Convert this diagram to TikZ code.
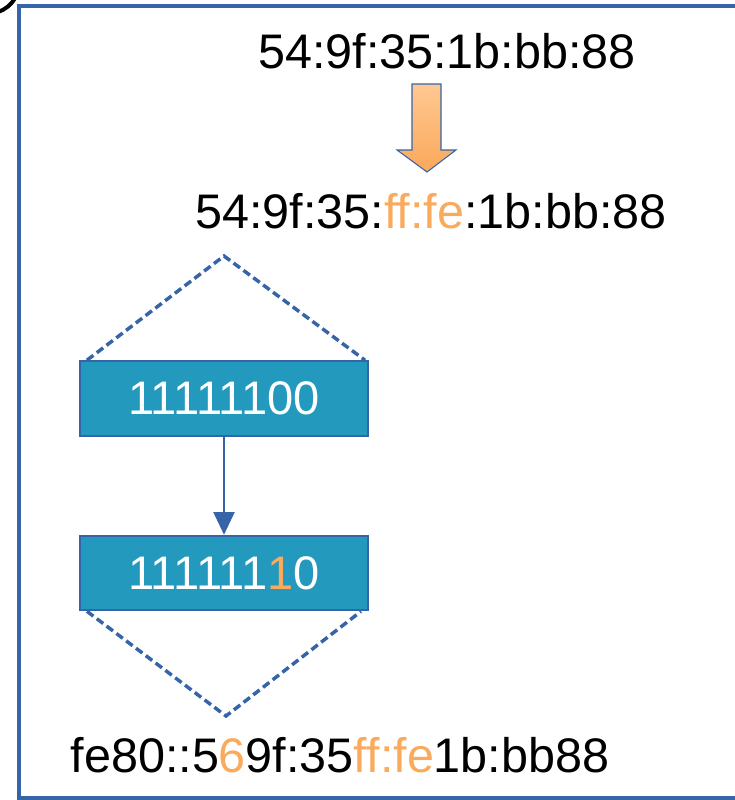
\documentclass[tikz,border=0pt]{standalone}
\usepackage{fontspec}
\setmainfont{Liberation Sans}
\usetikzlibrary{arrows.meta}
\definecolor{frameblue}{RGB}{54,100,168}
\definecolor{boxfill}{RGB}{35,153,190}
\definecolor{orng}{RGB}{250,170,92}
\definecolor{arrtop}{RGB}{255,200,145}
\definecolor{arrbot}{RGB}{250,168,90}
\tikzset{
  bigtxt/.style={anchor=base, inner sep=0pt, font=\fontsize{36.4pt}{40pt}\selectfont},
  bitbox/.style={draw=frameblue, line width=1.5pt, fill=boxfill, text=white, inner sep=0pt,
    minimum width=216pt, minimum height=56pt, font=\fontsize{35.3pt}{40pt}\selectfont},
  dashline/.style={draw=frameblue, line width=2.6pt, dash pattern=on 6pt off 3.2pt},
}
\begin{document}
\begin{tikzpicture}[x=0.75pt,y=-0.75pt]
\useasboundingbox (0,0) rectangle (735,800);
% frame
\draw[frameblue, line width=3pt] (19,6) rectangle (760,798);
\draw[black, line width=3pt] (-2,12) .. controls (6,9) and (11,5) .. (15,-2);
% texts
\node[bigtxt] (t1) at (447,68) {54:9f:35:1b:bb:88};
\node[bigtxt] (t2) at (431,228) {54:9f:35:\textcolor{orng}{ff:fe}:1b:bb:88};
\node[bigtxt] (t3) at (340,772) {fe80::5\textcolor{orng}{6}9f:35\textcolor{orng}{ff:fe}1b:bb88};
% block arrow
\shade[top color=arrtop, bottom color=arrbot, draw=frameblue, line width=0.8pt]
  (412,84) -- (441,84) -- (441,150) -- (456,150) -- (427,172) -- (397,150) -- (412,150) -- cycle;
% boxes
\node[bitbox] (b1) at (224,398.5) {11111100};
\node[bitbox] (b2) at (224,573) {111111\textcolor{orng}{1}0};
\draw[frameblue, line width=0.8pt, -{Triangle[length=17pt,width=16pt]}] (b1.south) -- (b2.north);
% dashed triangles
\coordinate (apex1) at (224,256);
\coordinate (apex2) at (226,716);
\draw[dashline] ([xshift=6pt]b1.north west) -- (apex1) -- ([xshift=-3pt]b1.north east);
\draw[dashline] ([xshift=6pt]b2.south west) -- (apex2) -- ([xshift=-6pt]b2.south east);
\end{tikzpicture}
\end{document}
